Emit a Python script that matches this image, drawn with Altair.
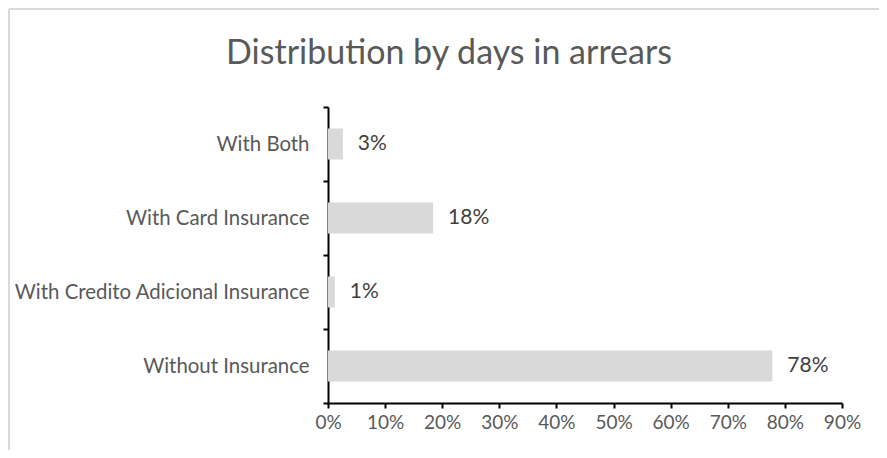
import altair as alt
import pandas as pd

categories = ["With Both", "With Card Insurance", "With Credito Adicional Insurance", "Without Insurance"]
shares = [0.026, 0.184, 0.012, 0.778]
x_ticks = [0, 0.1, 0.2, 0.3, 0.4, 0.5, 0.6, 0.7, 0.8, 0.9]
title_text = ["Distribution by days in arrears"]

df = pd.DataFrame({"category": categories, "share": shares})
title_df = pd.DataFrame({"title": title_text})

FONT = "Lato"

y_enc = alt.Y(
    "category:N",
    sort=categories,
    title=None,
    scale=alt.Scale(paddingInner=0, paddingOuter=0),
    axis=alt.Axis(
        domainColor="black", domainWidth=2, tickColor="black", tickWidth=2, tickSize=5,
        tickBand="extent", labelColor="#595959", labelFontSize=20.4, labelFont=FONT,
        labelPadding=14, labelLimit=400,
    ),
)
x_enc = alt.X(
    "share:Q",
    title=None,
    scale=alt.Scale(domain=[0, 0.9], nice=False),
    axis=alt.Axis(
        values=x_ticks, format=".0%", domainColor="black", domainWidth=2,
        tickColor="black", tickWidth=2, tickSize=5, grid=False, labelFlush=False,
        labelOverlap=False,
        labelColor="#595959", labelFontSize=19, labelFont=FONT, labelPadding=5,
    ),
)

bars = alt.Chart(df).mark_bar(color="#d9d9d9", size=31).encode(x=x_enc, y=y_enc)
labels = alt.Chart(df).mark_text(
    align="left", baseline="middle", dx=15, fontSize=21, font=FONT, color="#404040"
).encode(x="share:Q", y=alt.Y("category:N", sort=categories), text=alt.Text("share:Q", format=".0%"))

title = alt.Chart(title_df).mark_text(
    align="center", baseline="alphabetic", fontSize=34, font=FONT, color="#595959"
).encode(x=alt.value(121), y=alt.value(-43), text="title:N")

frame_top = alt.Chart(title_df).mark_rule(color="#d9d9d9", strokeWidth=2).encode(
    x=alt.value(-319), x2=alt.value(600), y=alt.value(-98)
)
frame_left = alt.Chart(title_df).mark_rule(color="#d9d9d9", strokeWidth=2).encode(
    x=alt.value(-319), y=alt.value(-98), y2=alt.value(400)
)

chart = alt.layer(frame_top, frame_left, title, bars, labels).properties(
    width=514,
    height=296,
    padding={"left": 320, "top": 99, "right": 37, "bottom": 47},
    autosize=alt.AutoSizeParams(type="none"),
).configure_view(stroke=None)

chart.save("out.html", embed_options={"renderer": "svg", "actions": False})
